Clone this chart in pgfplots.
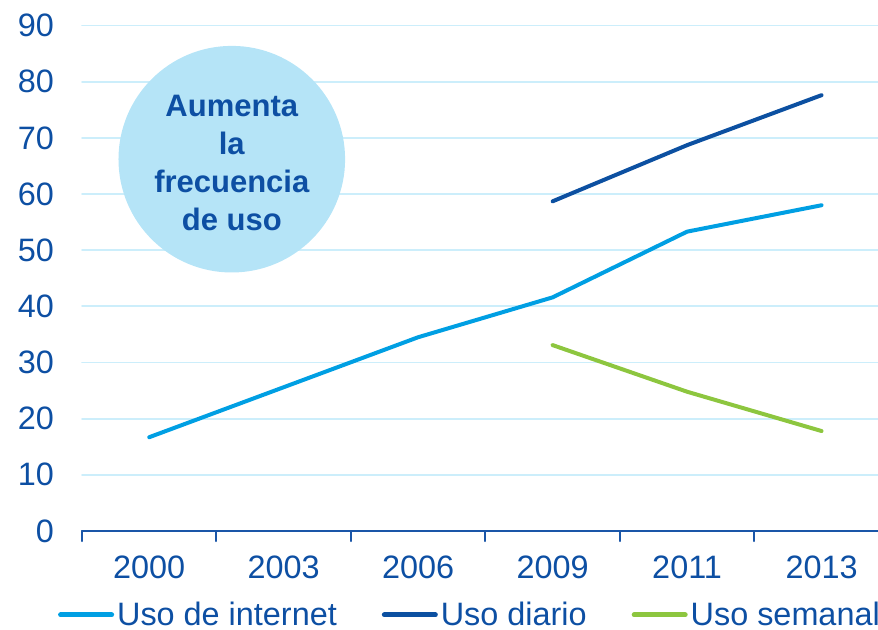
\documentclass[border=0pt]{standalone}
\usepackage{pgfplots}
\pgfplotsset{compat=1.18}
\usepackage{fontspec}
\setmainfont{Liberation Sans}
\definecolor{txtblue}{RGB}{13,79,163}
\definecolor{internet}{RGB}{0,159,227}
\definecolor{diario}{RGB}{12,80,161}
\definecolor{semanal}{RGB}{141,198,63}
\definecolor{gridcol}{RGB}{204,238,251}
\definecolor{circcol}{RGB}{181,228,247}
\definecolor{axcol}{RGB}{26,86,168}
\begin{document}
\begin{tikzpicture}
\useasboundingbox (-41pt,-49pt) rectangle (398pt,265.5pt);
\begin{axis}[
  scale only axis,
  width=398pt, height=252.75pt,
  xmin=-0.5, xmax=5.42,
  ymin=0, ymax=90,
  axis x line=bottom, axis y line=left,
  axis line style={-, draw=axcol, line width=1pt},
  y axis line style={draw=none},
  ytick={0,10,...,90},
  ytick style={draw=none},
  ymajorgrids,
  grid style={gridcol, line width=0.9pt},
  xtick={0,1,2,3,4,5},
  xticklabels={2000,2003,2006,2009,2011,2013},
  major x tick style={draw=none},
  minor xtick={-0.5,0.5,1.5,2.5,3.5,4.5},
  minor x tick style={draw=axcol, line width=1pt},
  tick align=outside,
  minor tick length=5pt,
  major tick length=0pt,
  /pgf/number format/assume math mode=true,
  tick label style={font=\fontsize{16.2}{19}\selectfont, text=txtblue},
  xticklabel style={yshift=-9pt},
  yticklabel style={xshift=-10.5pt},
  legend style={draw=none, fill=none, at={(0.488,-0.166)}, anchor=center,
    font=\fontsize{16.2}{19}\selectfont, text=txtblue,
    legend columns=3,
    /tikz/every even column/.append style={column sep=21pt},
    nodes={inner sep=1.5pt}},
  legend image code/.code={\draw[#1, line width=2.5pt, line cap=round] (0pt,0pt) -- (25.5pt,0pt);},
  line join=round, line cap=round,
]
\fill[circcol] (axis cs:0.614,66.2) circle[radius=56.65pt];
\node[align=center, text=txtblue, font=\bfseries\fontsize{15.5}{19}\selectfont] at (axis cs:0.614,65.6) {Aumenta\\la\\frecuencia\\de uso};
\addplot[internet, line width=2pt] coordinates {(0,16.7) (1,25.6) (2,34.5) (3,41.6) (4,53.3) (5,58.0)};
\addlegendentry{Uso de internet}
\addplot[diario, line width=2pt] coordinates {(3,58.7) (4,68.7) (5,77.6)};
\addlegendentry{Uso diario}
\addplot[semanal, line width=2pt] coordinates {(3,33.1) (4,24.8) (5,17.8)};
\addlegendentry{Uso semanal}
\end{axis}
\end{tikzpicture}
\end{document}
